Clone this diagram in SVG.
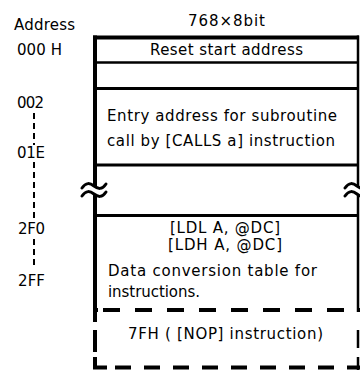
<svg xmlns="http://www.w3.org/2000/svg" width="360" height="370" viewBox="0 0 360 370">
<style>
text{font-family:"DejaVu Sans","Liberation Sans",sans-serif;font-size:15px;fill:#000}
.ln{stroke:#000;fill:none}
.ad{stroke:#000;stroke-width:2;stroke-dasharray:6 4;fill:none}
</style>
<defs>
<g id="brk">
<path d="M-12,-2 C-8,-8 -4,-7 0,-4 C4,-1 8,0 12,-6 L12,2 C8,8 4,7 0,4 C-4,1 -8,0 -12,6 Z" fill="#fff"/>
<path d="M-12,-2 C-8,-8 -4,-7 0,-4 C4,-1 8,0 12,-6 M-12,6 C-8,0 -4,1 0,4 C4,7 8,8 12,2" stroke="#000" stroke-width="3" fill="none" stroke-linecap="round"/>
</g>
</defs>
<g id="labels">
<text x="14" y="30" textLength="61">Address</text>
<text x="17" y="55" textLength="45">000 H</text>
<text x="188" y="26" textLength="77">768×8bit</text>
<text x="17" y="108" textLength="27">002</text>
<text x="17" y="158" textLength="28">01E</text>
<text x="18" y="234" textLength="27">2F0</text>
<text x="18" y="286" textLength="27">2FF</text>
</g>
<g id="connectors">
<line class="ad" x1="34" y1="113" x2="34" y2="145"/>
<line class="ad" x1="34" y1="162" x2="34" y2="221"/>
<line class="ad" x1="34" y1="239" x2="34" y2="269"/>
</g>
<g id="memory">
<line class="ln" x1="95" y1="35.5" x2="95" y2="322" stroke-width="4"/>
<line class="ln" x1="358" y1="35.5" x2="358" y2="312" stroke-width="2.5"/>
<line class="ln" x1="93" y1="37.5" x2="359" y2="37.5" stroke-width="4"/>
<line class="ln" x1="95" y1="62.5" x2="358" y2="62.5" stroke-width="2.5"/>
<line class="ln" x1="95" y1="88.5" x2="358" y2="88.5" stroke-width="3"/>
<line class="ln" x1="95" y1="165" x2="358" y2="165" stroke-width="3"/>
<line class="ln" x1="95" y1="215.5" x2="358" y2="215.5" stroke-width="3"/>
</g>
<g id="row-reset"><text x="150" y="55" textLength="153">Reset start address</text></g>
<g id="row-entry">
<text x="107" y="121" textLength="230">Entry address for subroutine</text>
<text x="107" y="146" textLength="228">call by [CALLS a] instruction</text>
</g>
<g id="break">
<use href="#brk" x="94" y="190"/>
<use href="#brk" x="357" y="190"/>
</g>
<g id="row-table">
<text x="170" y="232.5" textLength="110">[LDL A, @DC]</text>
<text x="168" y="250" textLength="114">[LDH A, @DC]</text>
<text x="108" y="276" textLength="209">Data conversion table for</text>
<text x="108" y="297" textLength="92">instructions.</text>
</g>
<g id="row-nop">
<line class="ln" x1="97" y1="310" x2="360" y2="310" stroke-width="4" stroke-dasharray="17 15" stroke-dashoffset="-6"/>
<line class="ln" x1="93" y1="310" x2="98" y2="310" stroke-width="4"/>
<line class="ln" x1="95" y1="330" x2="95" y2="352" stroke-width="4"/>
<path class="ln" d="M95,357 V367.5 H107" stroke-width="4"/>
<line class="ln" x1="115" y1="367.5" x2="360" y2="367.5" stroke-width="4" stroke-dasharray="16 13"/>
<line class="ln" x1="358" y1="330" x2="358" y2="348" stroke-width="2.5"/>
<line class="ln" x1="358" y1="357" x2="358" y2="370" stroke-width="2.5"/>
<text x="128" y="339" textLength="195">7FH ( [NOP] instruction)</text>
</g>
</svg>
